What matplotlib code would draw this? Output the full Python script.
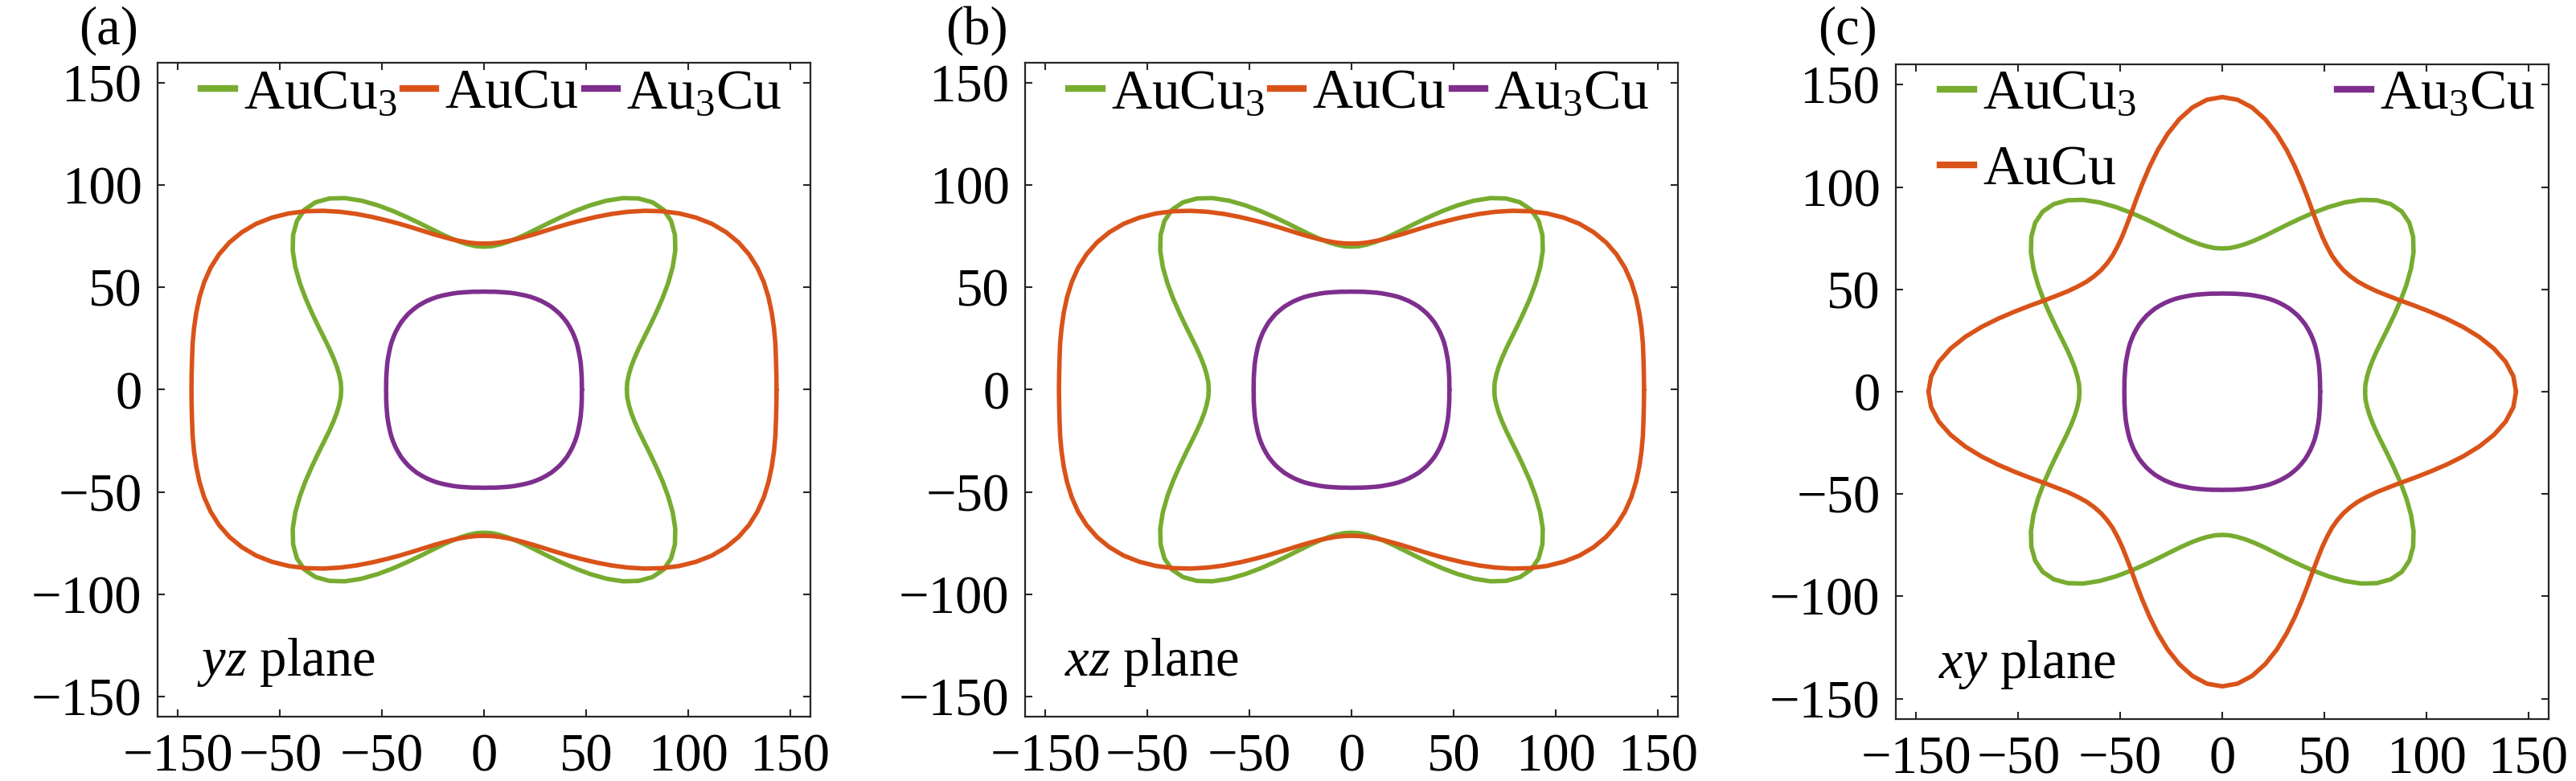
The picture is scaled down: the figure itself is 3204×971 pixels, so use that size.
import numpy as np
import matplotlib
matplotlib.use("Agg")
import matplotlib.pyplot as plt
from matplotlib.lines import Line2D

plt.rcParams['font.family'] = ['Liberation Serif', 'DejaVu Serif']
plt.rcParams['mathtext.fontset'] = 'custom'
plt.rcParams['mathtext.rm'] = 'Liberation Serif'
plt.rcParams['mathtext.it'] = 'Liberation Serif:italic'

# ---- data (radius vs. polar angle in the first quadrant, degrees) ----
angles_deg = [0, 3, 6, 9, 12, 15, 18, 21, 24, 27, 30, 33, 36, 39, 42, 45,
              48, 51, 54, 57, 60, 63, 66, 69, 72, 75, 78, 81, 84, 87, 90]
auCu3 = [70.0, 70.3, 71.4, 73.1, 75.5, 78.6, 82.5, 87.1, 92.3, 98.1, 104.2, 110.3,
         115.9, 120.4, 123.4, 124.5, 123.4, 120.4, 115.9, 110.3, 104.2, 98.1, 92.3,
         87.1, 82.5, 78.6, 75.5, 73.1, 71.4, 70.3, 70.0]
au3Cu = [48.0, 48.0, 48.2, 48.4, 48.7, 49.1, 49.5, 49.9, 50.4, 50.9, 51.3, 51.7,
         52.0, 52.3, 52.4, 52.5, 52.4, 52.3, 52.0, 51.7, 51.3, 50.9, 50.4, 49.9,
         49.5, 49.1, 48.7, 48.4, 48.2, 48.0, 48.0]
auCu_yz = [143.4, 143.5, 143.9, 144.6, 145.3, 146.0, 146.6, 146.9, 146.7, 145.8,
           144.1, 141.5, 138.1, 133.8, 128.9, 123.5, 117.8, 112.0, 106.3, 100.8,
           95.7, 91.1, 86.9, 83.2, 80.0, 77.4, 75.2, 73.6, 72.4, 71.7, 71.5]
auCu_xz = auCu_yz
auCu_xy = [144.0, 142.9, 139.7, 134.8, 128.8, 122.2, 115.5, 109.1, 103.3, 98.1,
           93.8, 90.2, 87.5, 85.5, 84.4, 84.0, 84.4, 85.5, 87.5, 90.2, 93.8, 98.1,
           103.3, 109.1, 115.5, 122.2, 128.8, 134.8, 139.7, 142.9, 144.0]

series_labels = [r'AuCu$_3$', 'AuCu', r'Au$_3$Cu']
panel_tags = ['(a)', '(b)', '(c)']
plane_labels = [r'$yz$ plane', r'$xz$ plane', r'$xy$ plane']
tick_vals = [-150, -100, -50, 0, 50, 100, 150]
xtick_labels = ['\u2212150', '\u221250', '\u221250', '0', '50', '100', '150']
ytick_labels = ['\u2212150', '\u2212100', '\u221250', '0', '50', '100', '150']

GREEN, ORANGE, PURPLE = '#77AC30', '#D95319', '#7E2F8E'
W, H, DPI = 3204, 971, 100


def closed_curve(r_quadrant):
    a = np.asarray(angles_deg, float)
    r = np.asarray(r_quadrant, float)
    ang = np.concatenate([a, 180 - a[::-1], 180 + a, 360 - a[::-1]])
    rr = np.concatenate([r, r[::-1], r, r[::-1]])
    t = np.radians(ang)
    return rr * np.cos(t), rr * np.sin(t)


fig = plt.figure(figsize=(W / DPI, H / DPI), dpi=DPI)
# left, top, bottom (px), tag centre x (px)
layout = [(196, 78, 891, 135), (1275, 78, 891, 1215), (2358, 80, 894, 2298)]
oranges = [auCu_yz, auCu_xz, auCu_xy]

for i, (l, t, b, tagx) in enumerate(layout):
    ax = fig.add_axes([l / W, 1 - b / H, 812 / W, (b - t) / H])
    for r, col in [(auCu3, GREEN), (oranges[i], ORANGE), (au3Cu, PURPLE)]:
        x, y = closed_curve(r)
        ax.plot(x, y, color=col, lw=4, solid_joinstyle='round', solid_capstyle='round')
    ax.set_xlim(-160, 160)
    ax.set_ylim(-160, 160)
    ax.set_xticks(tick_vals)
    ax.set_xticklabels(xtick_labels)
    ax.set_yticks(tick_vals)
    ax.set_yticklabels(ytick_labels)
    ax.tick_params(direction='in', top=True, right=True, length=6.5, width=1.5,
                   labelsize=48, color='#262626')
    ax.tick_params(axis='x', pad=15)
    ax.tick_params(axis='y', pad=14)
    for s in ax.spines.values():
        s.set_linewidth(1.6)
        s.set_color('#262626')
    fig.text(tagx / W, 1 - 38 / H, panel_tags[i], ha='center', va='center', fontsize=48)
    ax.text(0.06 if i < 2 else 0.065, 0.063, plane_labels[i], transform=ax.transAxes,
            fontsize=48, ha='left', va='baseline')
    hs = [Line2D([], [], color=GREEN, lw=6), Line2D([], [], color=ORANGE, lw=6),
          Line2D([], [], color=PURPLE, lw=6)]
    if i < 2:
        ax.legend(hs, series_labels, loc='center left', bbox_to_anchor=(0.0665, 0.951),
                  ncol=3, frameon=False, handlelength=0.6, handletextpad=0.16,
                  columnspacing=0.1, borderpad=0, borderaxespad=0, fontsize=50)
    else:
        ax.legend(hs, series_labels, loc='center left', bbox_to_anchor=(0.068, 0.895),
                  ncol=2, frameon=False, handlelength=0.6, handletextpad=0.16,
                  columnspacing=3.6, labelspacing=0.45, borderpad=0, borderaxespad=0,
                  fontsize=50)

fig.savefig('out.png', dpi=DPI)
